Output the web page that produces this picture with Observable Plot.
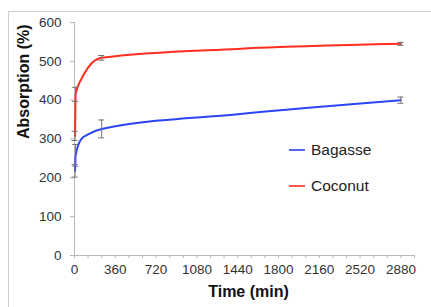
<!DOCTYPE html>
<html>
<head>
<meta charset="utf-8">
<script src="https://cdn.jsdelivr.net/npm/d3@7"></script>
<script src="https://cdn.jsdelivr.net/npm/@observablehq/plot@0.6"></script>
<style>
  html, body { margin: 0; padding: 0; background: white; }
  #chart { position: relative; width: 431px; height: 307px; overflow: hidden; }
</style>
</head>
<body>
<div id="chart"></div>
<script>
// Data
const times = [5, 10, 60, 120, 240, 1440, 2880];
const bagasse = [218, 258, 300, 312, 326, 364, 400];
const coconut = [308, 415, 454, 484, 509, 532, 545];
const bagasseErr = [16, 28, null, null, 23, null, 8];
const coconutErr = [12, 18, null, null, 6, null, 4];
const seriesNames = ["Bagasse", "Coconut"];
const seriesColors = ["#2a45f5", "#ff2d1f"];
const yTicks = [0, 100, 200, 300, 400, 500, 600];
const xLabelTicks = [0, 360, 720, 1080, 1440, 1800, 2160, 2520, 2880];
const xMinorTicks = d3.range(0, 3001, 120);

const rows = [];
times.forEach((t, i) => {
  rows.push({series: "Bagasse", t, v: bagasse[i], e: bagasseErr[i]});
});
times.forEach((t, i) => {
  rows.push({series: "Coconut", t, v: coconut[i], e: coconutErr[i]});
});
const errRows = rows.filter(d => d.e != null);

const plot = Plot.plot({
  width: 431,
  height: 307,
  marginLeft: 74,
  marginRight: 17,
  marginTop: 22,
  marginBottom: 52,
  style: {fontFamily: "'Liberation Sans', Arial, sans-serif", fontSize: "13.5px", color: "#333", background: "white"},
  x: {domain: [0, 3000]},
  y: {domain: [0, 600]},
  color: {domain: seriesNames, range: seriesColors},
  marks: [
    Plot.ruleX([0], {y1: 0, y2: 600, stroke: "#b8b8b8"}),
    Plot.ruleY([0], {stroke: "#b8b8b8"}),
    Plot.axisY({ticks: yTicks, tickSize: 4, tickPadding: 9, stroke: "#b8b8b8", label: null, fill: "#333"}),
    Plot.axisX({ticks: xMinorTicks, tickSize: 3, tickFormat: () => "", stroke: "#b8b8b8", label: null}),
    Plot.axisX({ticks: xLabelTicks, tickSize: 0, tickPadding: 9, tickFormat: d => String(d), label: null, fill: "#333"}),
    Plot.text(["Time (min)"], {frameAnchor: "bottom", dy: 41, dx: 4, fontWeight: "bold", fontSize: 16, fill: "#111"}),
    Plot.text(["Absorption (%)"], {frameAnchor: "left", rotate: -90, dx: -51, fontWeight: "bold", fontSize: 16, fill: "#111"}),
    Plot.line(rows, {x: "t", y: "v", z: "series", stroke: "series", strokeWidth: 2, curve: "monotone-x"}),
    Plot.ruleX(errRows, {x: "t", y1: d => d.v - d.e, y2: d => d.v + d.e, stroke: "#707070", strokeWidth: 1}),
    Plot.ruleY(errRows, {x1: "t", x2: "t", y: d => d.v - d.e, insetLeft: -3, insetRight: -3, stroke: "#707070", strokeWidth: 1}),
    Plot.ruleY(errRows, {x1: "t", x2: "t", y: d => d.v + d.e, insetLeft: -3, insetRight: -3, stroke: "#707070", strokeWidth: 1})
  ]
});
document.getElementById("chart").appendChild(plot);

// Outer border of the chart area and legend
const svg = d3.select(plot);
svg.append("rect")
  .attr("x", 8.5).attr("y", 11.5).attr("width", 440).attr("height", 320)
  .attr("fill", "none").attr("stroke", "#cfcfcf").attr("stroke-width", 1);

const legend = svg.append("g")
  .attr("font-family", "'Liberation Sans', Arial, sans-serif")
  .attr("font-size", 15.5)
  .attr("text-anchor", "start");
seriesNames.forEach((name, i) => {
  const cy = 150 + i * 36;
  legend.append("line").attr("x1", 289).attr("x2", 305).attr("y1", cy).attr("y2", cy)
    .attr("stroke", seriesColors[i]).attr("stroke-width", 1.6);
  legend.append("text").attr("x", 311).attr("y", cy).attr("dy", "0.35em")
    .attr("text-anchor", "start")
    .attr("fill", "#222").text(name);
});
</script>
</body>
</html>
